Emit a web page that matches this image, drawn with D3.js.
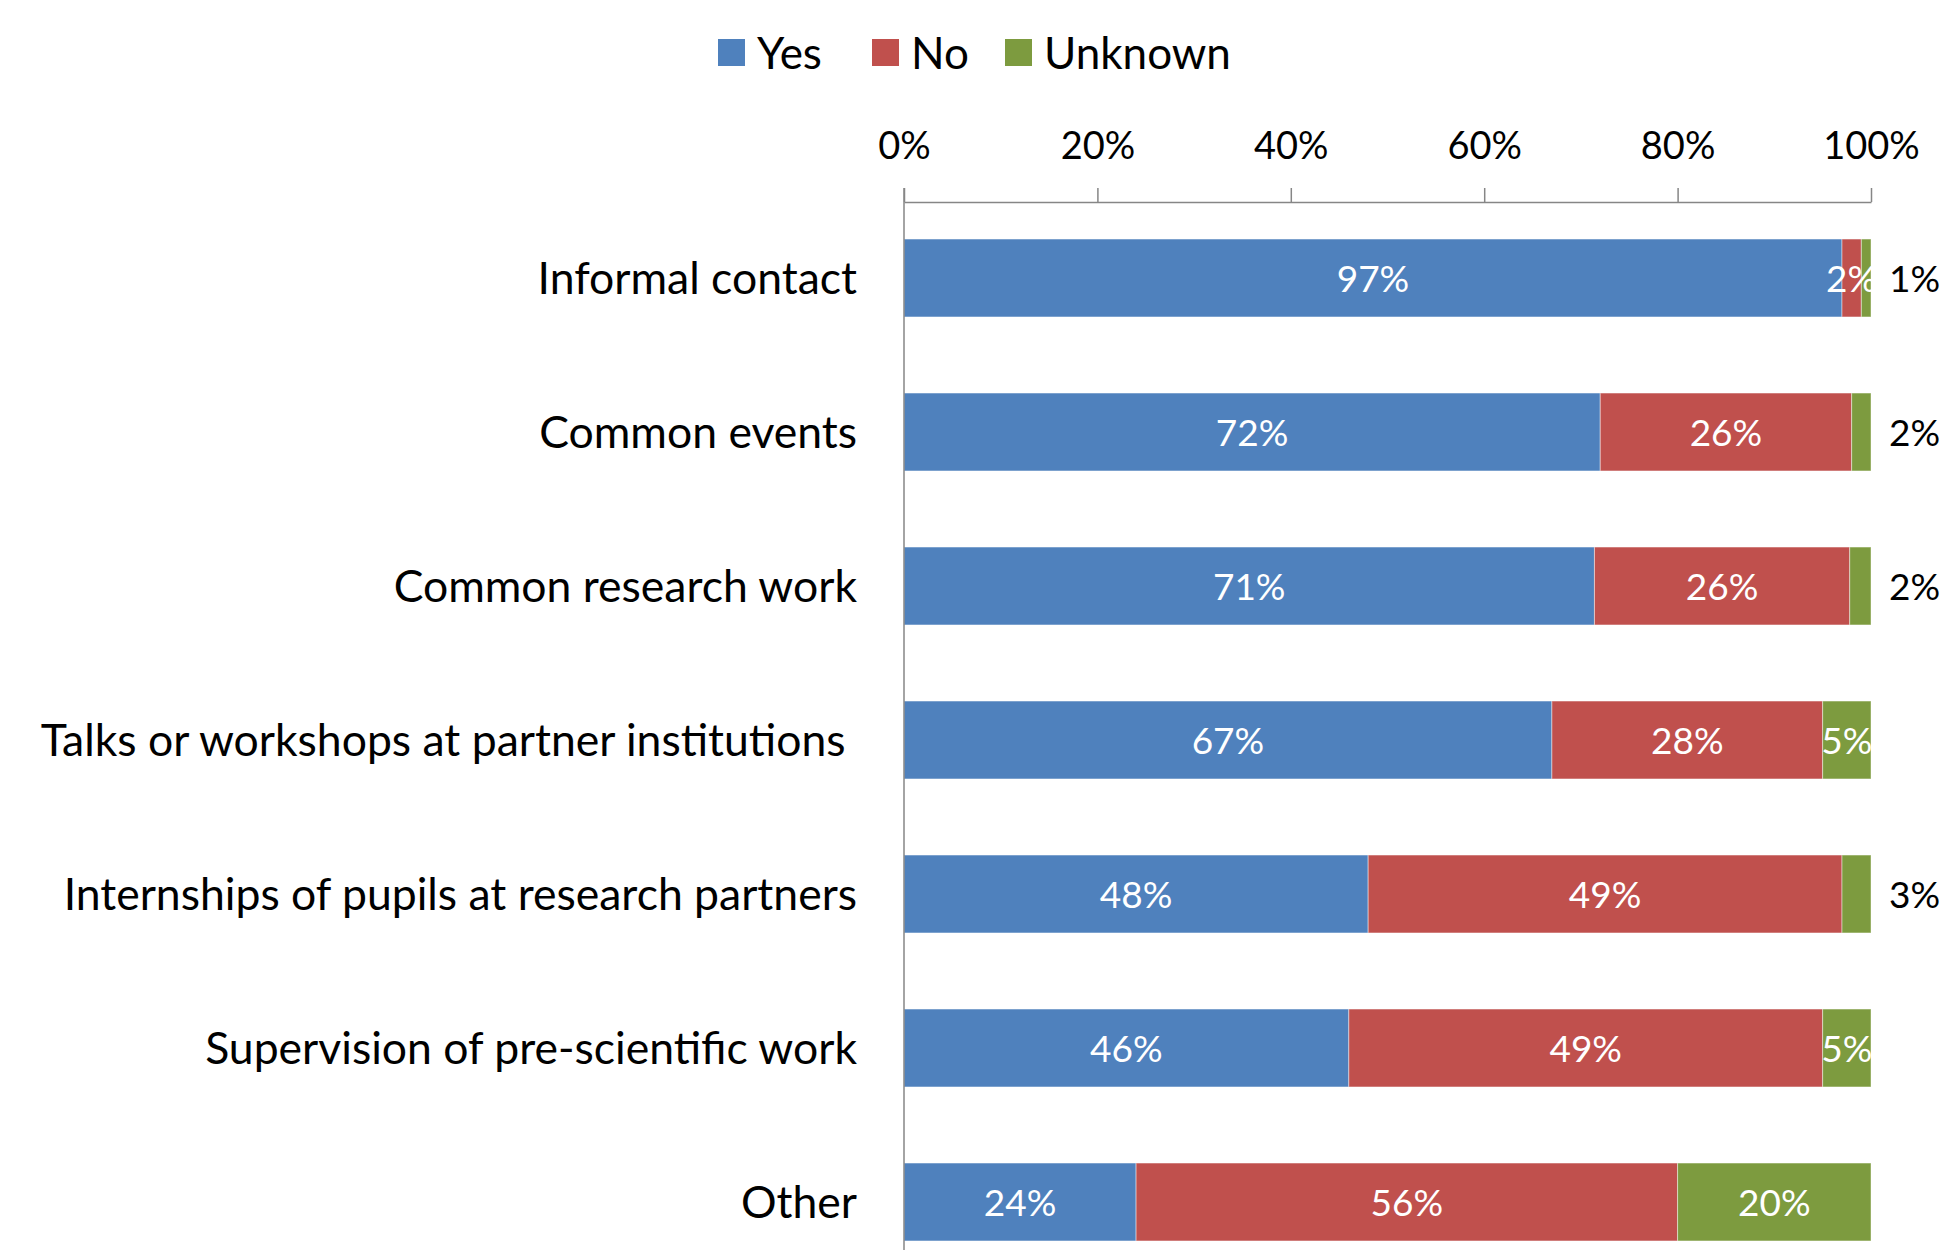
<!DOCTYPE html>
<html>
<head>
<meta charset="utf-8">
<script src="https://cdn.jsdelivr.net/npm/d3@7"></script>
<style>
  html, body { margin: 0; padding: 0; background: #ffffff; }
  svg { display: block; font-family: Lato, "Open Sans", sans-serif; }
</style>
</head>
<body>
<svg id="chart" width="1940" height="1250"></svg>
<script>
const categories = [
  "Informal contact",
  "Common events",
  "Common research work",
  "Talks or workshops at partner institutions ",
  "Internships of pupils at research partners",
  "Supervision of pre-scientific work",
  "Other"
];
const seriesNames = ["Yes", "No", "Unknown"];
const yesValues     = [97, 72, 71.4, 67, 48, 46, 24];
const noValues      = [2, 26, 26.4, 28, 49, 49, 56];
const unknownValues = [1, 2, 2.2, 5, 3, 5, 20];
const tickValues = [0, 20, 40, 60, 80, 100];
const tickLabels = ["0%", "20%", "40%", "60%", "80%", "100%"];
const colors = ["#4F81BD", "#C0504D", "#7D9B3F"];

const rows = categories.map((c, i) => ({
  category: c, Yes: yesValues[i], No: noValues[i], Unknown: unknownValues[i]
}));

const svg = d3.select("#chart");

const x = d3.scaleLinear().domain([0, 100]).range([904, 1871]);
const y = d3.scaleBand().domain(categories).range([201, 1279])
  .paddingInner(0.494).paddingOuter(0.247);
const color = d3.scaleOrdinal().domain(seriesNames).range(colors);

const stack = d3.stack().keys(seriesNames);
const stacked = stack(rows);

// bars
const layers = svg.append("g").selectAll("g")
  .data(stacked).join("g")
  .attr("fill", d => color(d.key));

layers.selectAll("rect")
  .data(d => d.map(p => ({ key: d.key, p })))
  .join("rect")
  .attr("x", d => x(d.p[0]))
  .attr("y", d => y(d.p.data.category))
  .attr("width", d => x(d.p[1]) - x(d.p[0]))
  .attr("height", y.bandwidth())
  .attr("stroke", "#ffffff")
  .attr("stroke-opacity", 0.45)
  .attr("stroke-width", 1);

// top axis
const xAxis = d3.axisTop(x)
  .tickValues(tickValues)
  .tickFormat((d, i) => tickLabels[i])
  .tickSize(14)
  .tickSizeOuter(0);

const gx = svg.append("g")
  .attr("transform", "translate(0,202)")
  .call(xAxis);
gx.select(".domain").attr("stroke", "#868686").attr("stroke-width", 1.5);
gx.selectAll(".tick line").attr("stroke", "#868686").attr("stroke-width", 1.5);
gx.selectAll(".tick text")
  .attr("y", -56)
  .attr("dy", "0.35em")
  .attr("fill", "#000")
  .style("font-size", "38px")
  .style("font-family", "Lato, 'Open Sans', sans-serif");

// left axis (category)
const yAxis = d3.axisLeft(y).tickSize(0).tickSizeOuter(0).tickPadding(47);
const gy = svg.append("g")
  .attr("transform", "translate(904,0)")
  .call(yAxis);
gy.select(".domain").attr("stroke", "#868686").attr("stroke-width", 1.5)
  .attr("d", "M0,188V1279");
gy.selectAll(".tick text")
  .attr("fill", "#000")
  .attr("dy", "0.36em")
  .style("white-space", "pre")
  .style("font-size", "44.5px")
  .style("font-family", "Lato, 'Open Sans', sans-serif");

// data labels
const labelData = [];
stacked.forEach(layer => {
  layer.forEach(p => {
    const v = p[1] - p[0];
    labelData.push({ key: layer.key, p, v });
  });
});

svg.append("g").selectAll("text")
  .data(labelData)
  .join("text")
  .attr("x", d => {
    if (d.key === "Unknown" && d.v < 4) return x(100) + 18;
    return (x(d.p[0]) + x(d.p[1])) / 2;
  })
  .attr("y", d => y(d.p.data.category) + y.bandwidth() / 2)
  .attr("dy", "0.38em")
  .attr("text-anchor", d => (d.key === "Unknown" && d.v < 4) ? "start" : "middle")
  .attr("fill", d => (d.key === "Unknown" && d.v < 4) ? "#000" : "#fff")
  .style("font-size", "37px")
  .text(d => Math.round(d.v) + "%");

// legend
const legendX = [718, 872, 1005];
const legend = svg.append("g").selectAll("g")
  .data(seriesNames).join("g")
  .attr("transform", (d, i) => `translate(${legendX[i]},39)`);
legend.append("rect")
  .attr("width", 27).attr("height", 27)
  .attr("fill", d => color(d));
legend.append("text")
  .attr("x", 39).attr("y", 14).attr("dy", "0.36em")
  .style("font-size", "44px")
  .attr("fill", "#000")
  .text(d => d);
</script>
</body>
</html>
